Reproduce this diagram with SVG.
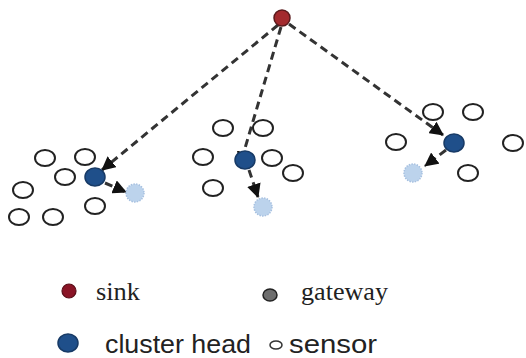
<svg xmlns="http://www.w3.org/2000/svg" width="526" height="358" viewBox="0 0 526 358">
<style>
.sensor{fill:#fff;stroke:#222;stroke-width:2}
.head{fill:#1f4f8a;stroke:#173a66;stroke-width:1.5}
.gw{fill:#bcd3ec;stroke:#a6c0e0;stroke-width:1.5;stroke-dasharray:1.5 1.2}
.sink{fill:#a32a2e;stroke:#5a1a1c;stroke-width:1.5}
.link{fill:none;stroke:#333;stroke-width:3;stroke-dasharray:8 5}
.serif{font-family:"Liberation Serif","Times New Roman",serif;font-size:25px;fill:#222}
.sans{font-family:"Liberation Sans",Arial,sans-serif;font-size:25px;fill:#222}
</style>
<defs>
<marker id="ah" markerUnits="userSpaceOnUse" markerWidth="14" markerHeight="14" viewBox="0 0 14 14" refX="13" refY="7" orient="auto">
<path d="M0,0 L14,7 L0,14 Z" fill="#111"/>
</marker>
</defs>
<rect width="526" height="358" fill="#fff"/>
<g id="connectors">
<line class="link" x1="278" y1="25" x2="102" y2="170" marker-end="url(#ah)"/>
<line class="link" x1="281" y1="27" x2="240" y2="165" marker-end="url(#ah)"/>
<line class="link" x1="289" y1="24" x2="443" y2="135" marker-end="url(#ah)"/>
<line class="link" x1="105" y1="183" x2="126" y2="192" stroke-dasharray="4 3" marker-end="url(#ah)"/>
<line class="link" x1="249" y1="170" x2="258" y2="197" stroke-dasharray="4 3" marker-end="url(#ah)"/>
<line class="link" x1="446" y1="150" x2="425" y2="166" stroke-dasharray="4 3" marker-end="url(#ah)"/>
</g>
<g id="sink"><circle class="sink" cx="282" cy="18" r="8"/></g>
<g id="cluster1">
<ellipse class="sensor" cx="45" cy="158" rx="10" ry="8"/>
<ellipse class="sensor" cx="85" cy="157" rx="10" ry="8"/>
<ellipse class="sensor" cx="65" cy="177" rx="10" ry="8"/>
<ellipse class="sensor" cx="23" cy="190" rx="10" ry="8"/>
<ellipse class="sensor" cx="19" cy="217" rx="10" ry="8"/>
<ellipse class="sensor" cx="53" cy="217" rx="10" ry="8"/>
<ellipse class="sensor" cx="95" cy="206" rx="10" ry="8"/>
<ellipse class="head" cx="95" cy="177" rx="10" ry="9"/>
<circle class="gw" cx="135" cy="193" r="9"/>
</g>
<g id="cluster2">
<ellipse class="sensor" cx="223" cy="128" rx="10" ry="8"/>
<ellipse class="sensor" cx="263" cy="128" rx="10" ry="8"/>
<ellipse class="sensor" cx="203" cy="157" rx="10" ry="8"/>
<ellipse class="sensor" cx="272" cy="158" rx="10" ry="8"/>
<ellipse class="sensor" cx="293" cy="173" rx="10" ry="8"/>
<ellipse class="sensor" cx="213" cy="188" rx="10" ry="8"/>
<ellipse class="head" cx="245" cy="160" rx="10" ry="9"/>
<circle class="gw" cx="263" cy="207" r="9"/>
</g>
<g id="cluster3">
<ellipse class="sensor" cx="433" cy="112" rx="10" ry="8"/>
<ellipse class="sensor" cx="473" cy="112" rx="10" ry="8"/>
<ellipse class="sensor" cx="396" cy="142" rx="10" ry="8"/>
<ellipse class="sensor" cx="513" cy="143" rx="10" ry="8"/>
<ellipse class="sensor" cx="468" cy="173" rx="10" ry="8"/>
<ellipse class="head" cx="454" cy="143" rx="10" ry="9"/>
<circle class="gw" cx="413" cy="173" r="9"/>
</g>
<g id="legend">
<circle cx="69" cy="291" r="7" fill="#8a1426" stroke="#5a0e18" stroke-width="1.2"/>
<text class="serif" x="96" y="300" textLength="44" lengthAdjust="spacingAndGlyphs">sink</text>
<ellipse cx="270" cy="295" rx="7" ry="6" fill="#6e6e6e" stroke="#222" stroke-width="1.5"/>
<text class="serif" x="301" y="300" textLength="87" lengthAdjust="spacingAndGlyphs">gateway</text>
<ellipse cx="68" cy="343" rx="10" ry="9" fill="#1f4f8a" stroke="#173a66" stroke-width="1.5"/>
<text class="sans" x="105" y="353" textLength="146" lengthAdjust="spacingAndGlyphs">cluster head</text>
<ellipse cx="276" cy="345" rx="6" ry="4" fill="#fff" stroke="#333" stroke-width="1.5"/>
<text class="sans" x="289" y="353" textLength="88" lengthAdjust="spacingAndGlyphs">sensor</text>
</g>
</svg>
